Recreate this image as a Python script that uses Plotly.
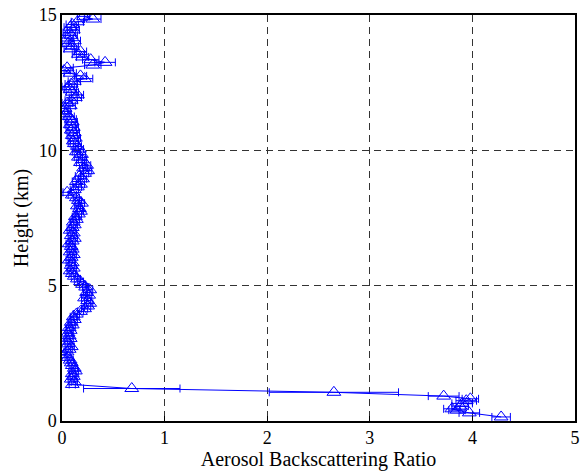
import plotly.graph_objects as go

# Bottom boundary-layer points (height km, ratio, error)
low_heights = [0.15, 0.30, 0.40, 0.45, 0.55, 0.65, 0.75, 0.82, 0.92, 1.06, 1.20]
low_ratio = [4.28, 3.97, 3.85, 3.80, 3.88, 3.90, 3.94, 3.98, 3.72, 2.65, 0.68]
low_err = [0.09, 0.10, 0.08, 0.08, 0.08, 0.10, 0.10, 0.08, 0.15, 0.63, 0.47]

# Free troposphere profile, heights 1.35 .. 14.95 km
up_heights = [
    1.35, 1.45, 1.55, 1.65, 1.75, 1.85, 1.95, 2.05, 2.15, 2.25,
    2.35, 2.45, 2.55, 2.65, 2.75, 2.85, 2.95, 3.05, 3.15, 3.25,
    3.35, 3.45, 3.55, 3.65, 3.75, 3.85, 3.95, 4.05, 4.15, 4.25,
    4.35, 4.45, 4.55, 4.65, 4.75, 4.85, 4.95, 5.05, 5.15, 5.25,
    5.35, 5.45, 5.55, 5.65, 5.75, 5.85, 5.95, 6.05, 6.15, 6.25,
    6.35, 6.45, 6.55, 6.65, 6.75, 6.85, 6.95, 7.05, 7.15, 7.25,
    7.35, 7.45, 7.55, 7.65, 7.75, 7.85, 7.95, 8.05, 8.15, 8.25,
    8.35, 8.45, 8.55, 8.65, 8.75, 8.85, 8.95, 9.05, 9.15, 9.25,
    9.35, 9.45, 9.55, 9.65, 9.75, 9.85, 9.95, 10.05, 10.15, 10.25,
    10.35, 10.45, 10.55, 10.65, 10.75, 10.85, 10.95, 11.05, 11.15, 11.25,
    11.35, 11.45, 11.55, 11.65, 11.75, 11.85, 11.95, 12.05, 12.15, 12.25,
    12.35, 12.45, 12.55, 12.65, 12.75, 12.85, 12.95, 13.05, 13.15, 13.25,
    13.35, 13.45, 13.55, 13.65, 13.75, 13.85, 13.95, 14.05, 14.15, 14.25,
    14.35, 14.45, 14.55, 14.65, 14.75, 14.85, 14.95,
]
up_ratio = [
    0.10, 0.12, 0.09, 0.11, 0.10, 0.13, 0.12, 0.10, 0.09, 0.08,
    0.06, 0.02, 0.05, 0.07, 0.09, 0.06, 0.05, 0.08, 0.07, 0.06,
    0.08, 0.07, 0.10, 0.09, 0.12, 0.11, 0.14, 0.18, 0.22, 0.25,
    0.27, 0.25, 0.22, 0.26, 0.24, 0.27, 0.23, 0.20, 0.18, 0.15,
    0.12, 0.10, 0.08, 0.11, 0.09, 0.10, 0.07, 0.09, 0.11, 0.08,
    0.10, 0.09, 0.07, 0.10, 0.12, 0.09, 0.11, 0.08, 0.10, 0.12,
    0.11, 0.14, 0.13, 0.16, 0.18, 0.17, 0.15, 0.19, 0.16, 0.14,
    0.10, 0.05, 0.12, 0.15, 0.18, 0.14, 0.20, 0.17, 0.22, 0.25,
    0.21, 0.24, 0.18, 0.20, 0.16, 0.19, 0.14, 0.17, 0.15, 0.12,
    0.11, 0.13, 0.10, 0.12, 0.09, 0.11, 0.08, 0.10, 0.09, 0.07,
    0.04, 0.01, 0.03, 0.08, 0.05, 0.09, 0.13, 0.15, 0.10, 0.08,
    0.06, 0.09, 0.12, 0.22, 0.18, 0.08, 0.02, 0.05, 0.30, 0.42,
    0.28, 0.20, 0.16, 0.18, 0.08, 0.10, 0.06, 0.12, 0.05, 0.09,
    0.07, 0.11, 0.08, 0.10, 0.15, 0.30, 0.21,
]
up_err = [
    0.03, 0.03, 0.03, 0.03, 0.03, 0.03, 0.03, 0.03, 0.03, 0.03,
    0.03, 0.03, 0.03, 0.03, 0.03, 0.03, 0.03, 0.03, 0.03, 0.03,
    0.03, 0.03, 0.03, 0.03, 0.03, 0.03, 0.03, 0.03, 0.03, 0.03,
    0.03, 0.03, 0.03, 0.03, 0.03, 0.03, 0.03, 0.03, 0.03, 0.03,
    0.03, 0.03, 0.03, 0.03, 0.03, 0.03, 0.03, 0.03, 0.03, 0.03,
    0.03, 0.03, 0.03, 0.03, 0.03, 0.03, 0.03, 0.03, 0.03, 0.03,
    0.03, 0.03, 0.03, 0.03, 0.03, 0.03, 0.03, 0.03, 0.03, 0.03,
    0.04, 0.04, 0.04, 0.04, 0.04, 0.04, 0.04, 0.04, 0.04, 0.04,
    0.04, 0.04, 0.04, 0.04, 0.04, 0.04, 0.04, 0.04, 0.04, 0.04,
    0.05, 0.05, 0.05, 0.05, 0.05, 0.05, 0.05, 0.05, 0.05, 0.05,
    0.05, 0.05, 0.05, 0.05, 0.05, 0.06, 0.06, 0.06, 0.06, 0.06,
    0.06, 0.06, 0.06, 0.08, 0.06, 0.06, 0.06, 0.06, 0.08, 0.10,
    0.08, 0.06, 0.06, 0.06, 0.06, 0.06, 0.06, 0.06, 0.06, 0.06,
    0.06, 0.06, 0.06, 0.06, 0.06, 0.08, 0.06,
]

heights = low_heights + up_heights
ratio = low_ratio + up_ratio
err = low_err + up_err

x_ticks = [0, 1, 2, 3, 4, 5]
y_ticks = [0, 5, 10, 15]

blue = "#0000FF"
font_family = "Liberation Serif"

fig = go.Figure()
fig.add_trace(go.Scatter(
    x=ratio, y=heights,
    mode="lines+markers",
    line=dict(color=blue, width=1),
    marker=dict(symbol="triangle-up-open", size=12, color=blue,
                line=dict(color=blue, width=1)),
    error_x=dict(type="data", array=err, visible=True, color=blue,
                 thickness=1, width=4),
    showlegend=False,
))

axis_common = dict(
    showline=True, linecolor="black", linewidth=1.5, mirror=True,
    ticks="inside", ticklen=5, tickcolor="black", tickwidth=1,
    showgrid=True, gridcolor="#333333", griddash="7px,5px", gridwidth=1,
    zeroline=False,
    tickfont=dict(family=font_family, size=18, color="black"),
)

fig.update_xaxes(range=[0, 5], tickvals=x_ticks,
                 title=dict(text="Aerosol Backscattering Ratio",
                            font=dict(family=font_family, size=20, color="black"),
                            standoff=5),
                 **axis_common)
fig.update_yaxes(range=[0, 15], tickvals=y_ticks,
                 title=dict(text="Height (km)",
                            font=dict(family=font_family, size=20, color="black"),
                            standoff=5),
                 **axis_common)

fig.update_layout(
    width=585, height=472,
    margin=dict(l=62, r=5, t=15, b=48, pad=0),
    plot_bgcolor="white", paper_bgcolor="white",
)

fig.write_html("out.html")
